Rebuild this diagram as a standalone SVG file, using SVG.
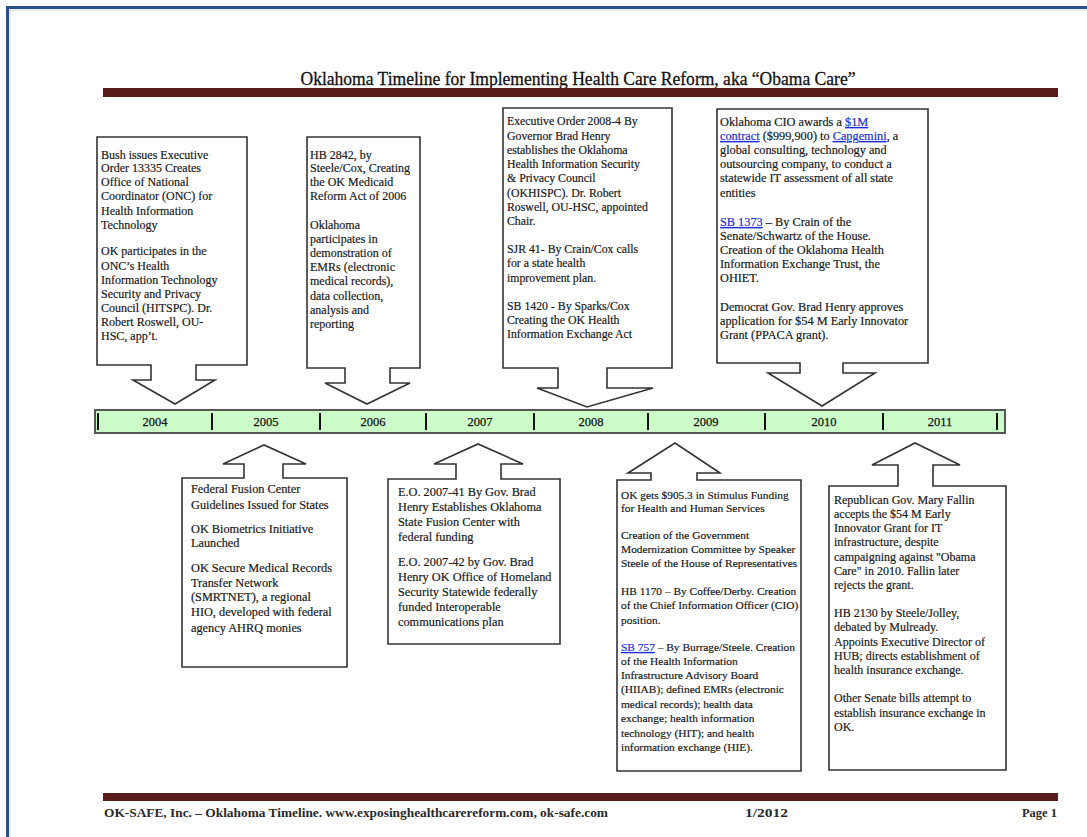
<svg xmlns="http://www.w3.org/2000/svg" width="1087" height="837" viewBox="0 0 1087 837">
<style>
.t{font-family:"Liberation Serif","Times New Roman",serif;fill:#1a1a1a;stroke:#1a1a1a;stroke-width:0.2}
.f12{font-size:12px}
.f118{font-size:11.8px}
.f123{font-size:12.3px}
.f114{font-size:11.4px}
.co{fill:#fff;stroke:#333;stroke-width:1.6;stroke-linejoin:miter}
.lk{fill:#1f2fd0;stroke:#1f2fd0;text-decoration:underline}
.yr{font-family:"Liberation Serif","Times New Roman",serif;font-size:12.5px;fill:#111;stroke:#111;stroke-width:0.25;text-anchor:middle}
.tick{stroke:#111;stroke-width:2}
.bar{fill:#5a1d1d}
.ft{font-family:"Liberation Serif","Times New Roman",serif;font-size:12.5px;font-weight:bold;fill:#2a2a2a}
</style>
<rect width="1087" height="837" fill="#fff"/>
<path d="M7.5,837 V7.5 H1087" fill="none" stroke="#2b4f88" stroke-width="3"/>
<path d="M10,837 V10 H1087" fill="none" stroke="#d6d6d6" stroke-width="1"/>

<g id="header">
<text x="578" y="85" text-anchor="middle" textLength="555" lengthAdjust="spacingAndGlyphs" style="font-family:'Liberation Serif','Times New Roman',serif;font-size:19.5px;fill:#111;stroke:#111;stroke-width:0.3">Oklahoma Timeline for Implementing Health Care Reform, aka “Obama Care”</text>
<rect class="bar" x="103" y="88" width="955" height="9"/>
</g>

<g id="timeline">
<rect x="95" y="410" width="910" height="23" fill="#ccfcc8" stroke="#555" stroke-width="2"/>
<line class="tick" x1="98" y1="413" x2="98" y2="430"/>
<line class="tick" x1="212" y1="413" x2="212" y2="430"/>
<line class="tick" x1="320" y1="413" x2="320" y2="430"/>
<line class="tick" x1="426" y1="413" x2="426" y2="430"/>
<line class="tick" x1="534" y1="413" x2="534" y2="430"/>
<line class="tick" x1="648" y1="413" x2="648" y2="430"/>
<line class="tick" x1="765" y1="413" x2="765" y2="430"/>
<line class="tick" x1="883" y1="413" x2="883" y2="430"/>
<line class="tick" x1="997" y1="413" x2="997" y2="430"/>
<text class="yr" x="155" y="426">2004</text>
<text class="yr" x="266" y="426">2005</text>
<text class="yr" x="373" y="426">2006</text>
<text class="yr" x="480" y="426">2007</text>
<text class="yr" x="591" y="426">2008</text>
<text class="yr" x="706" y="426">2009</text>
<text class="yr" x="824" y="426">2010</text>
<text class="yr" x="940" y="426">2011</text>
</g>

<g id="n2004">
<path class="co" d="M97,137 H247 V365 H196 V380 H215 L175,404 L133,380 H151 V365 H97 Z"/>
<g class="t f12">
<text x="101" y="159">Bush issues Executive</text>
<text x="101" y="172">Order 13335 Creates</text>
<text x="101" y="186">Office of National</text>
<text x="101" y="200">Coordinator (ONC) for</text>
<text x="101" y="215">Health Information</text>
<text x="101" y="229">Technology</text>
<text x="101" y="255">OK participates in the</text>
<text x="101" y="270">ONC’s Health</text>
<text x="101" y="284">Information Technology</text>
<text x="101" y="298">Security and Privacy</text>
<text x="101" y="312">Council (HITSPC). Dr.</text>
<text x="101" y="326">Robert Roswell, OU-</text>
<text x="101" y="340">HSC, app’t.</text>
</g>
</g>

<g id="n2006">
<path class="co" d="M307,137 H420 V368 H390 V383 H410 L367,404 L325,383 H345 V368 H307 Z"/>
<g class="t f12">
<text x="310" y="159">HB 2842, by</text>
<text x="310" y="172">Steele/Cox, Creating</text>
<text x="310" y="186">the OK Medicaid</text>
<text x="310" y="200">Reform Act of 2006</text>
<text x="310" y="229">Oklahoma</text>
<text x="310" y="243">participates in</text>
<text x="310" y="257">demonstration of</text>
<text x="310" y="271">EMRs (electronic</text>
<text x="310" y="285">medical records),</text>
<text x="310" y="300">data collection,</text>
<text x="310" y="314">analysis and</text>
<text x="310" y="328">reporting</text>
</g>
</g>

<g id="n2008">
<path class="co" d="M503,108 H672 V368 H607 V388 H653 L587,407 L537,388 H558 V368 H503 Z"/>
<g class="t f118">
<text x="507" y="125">Executive Order 2008-4 By</text>
<text x="507" y="140">Governor Brad Henry</text>
<text x="507" y="154">establishes the Oklahoma</text>
<text x="507" y="168">Health Information Security</text>
<text x="507" y="182">&amp; Privacy Council</text>
<text x="507" y="197">(OKHISPC). Dr. Robert</text>
<text x="507" y="211">Roswell, OU-HSC, appointed</text>
<text x="507" y="225">Chair.</text>
<text x="507" y="253">SJR 41- By Crain/Cox calls</text>
<text x="507" y="267">for a state health</text>
<text x="507" y="282">improvement plan.</text>
<text x="507" y="310">SB 1420 - By Sparks/Cox</text>
<text x="507" y="324">Creating the OK Health</text>
<text x="507" y="338">Information Exchange Act</text>
</g>
</g>

<g id="n2010">
<path class="co" d="M717,109 H928 V363 H843 V373 H875 L822,406 L768,373 H800 V363 H717 Z"/>
<g class="t f123">
<text x="720" y="126">Oklahoma CIO awards a <tspan class="lk">$1M</tspan></text>
<text x="720" y="140"><tspan class="lk">contract</tspan> ($999,900) to <tspan class="lk">Capgemini</tspan>, a</text>
<text x="720" y="154">global consulting, technology and</text>
<text x="720" y="168">outsourcing company, to conduct a</text>
<text x="720" y="182">statewide IT assessment of all state</text>
<text x="720" y="197">entities</text>
<text x="720" y="226"><tspan class="lk">SB 1373</tspan> – By Crain of the</text>
<text x="720" y="240">Senate/Schwartz of the House.</text>
<text x="720" y="254">Creation of the Oklahoma Health</text>
<text x="720" y="268">Information Exchange Trust, the</text>
<text x="720" y="282">OHIET.</text>
<text x="720" y="311">Democrat Gov. Brad Henry approves</text>
<text x="720" y="325">application for $54 M Early Innovator</text>
<text x="720" y="339">Grant (PPACA grant).</text>
</g>
</g>

<g id="n2005">
<path class="co" d="M182,478 H244 V464 H223 L264,445 L306,464 H283 V478 H347 V667 H182 Z"/>
<g class="t f123">
<text x="191" y="493">Federal Fusion Center</text>
<text x="191" y="509">Guidelines Issued for States</text>
<text x="191" y="533">OK Biometrics Initiative</text>
<text x="191" y="547">Launched</text>
<text x="191" y="572">OK Secure Medical Records</text>
<text x="191" y="587">Transfer Network</text>
<text x="191" y="601">(SMRTNET), a regional</text>
<text x="191" y="616">HIO, developed with federal</text>
<text x="191" y="632">agency AHRQ monies</text>
</g>
</g>

<g id="n2007">
<path class="co" d="M388,479 H456 V464 H434 L478,444 L523,464 H501 V479 H560 V644 H388 Z"/>
<g class="t f123">
<text x="398" y="496">E.O. 2007-41 By Gov. Brad</text>
<text x="398" y="511">Henry Establishes Oklahoma</text>
<text x="398" y="526">State Fusion Center with</text>
<text x="398" y="541">federal funding</text>
<text x="398" y="566">E.O. 2007-42 by Gov. Brad</text>
<text x="398" y="581">Henry OK Office of Homeland</text>
<text x="398" y="596">Security Statewide federally</text>
<text x="398" y="611">funded Interoperable</text>
<text x="398" y="626">communications plan</text>
</g>
</g>

<g id="n2009">
<path class="co" d="M617,480 H651 V473 H628 L675,443 L720,473 H697 V480 H801 V771 H617 Z"/>
<g class="t f114">
<text x="621" y="499">OK gets $905.3 in Stimulus Funding</text>
<text x="621" y="512">for Health and Human Services</text>
<text x="621" y="539">Creation of the Government</text>
<text x="621" y="553">Modernization Committee by Speaker</text>
<text x="621" y="567">Steele of the House of Representatives</text>
<text x="621" y="595">HB 1170 – By Coffee/Derby. Creation</text>
<text x="621" y="609">of the Chief Information Officer (CIO)</text>
<text x="621" y="624">position.</text>
<text x="621" y="651"><tspan class="lk">SB 757</tspan> – By Burrage/Steele. Creation</text>
<text x="621" y="665">of the Health Information</text>
<text x="621" y="679">Infrastructure Advisory Board</text>
<text x="621" y="693">(HIIAB); defined EMRs (electronic</text>
<text x="621" y="708">medical records); health data</text>
<text x="621" y="722">exchange; health information</text>
<text x="621" y="737">technology (HIT); and health</text>
<text x="621" y="751">information exchange (HIE).</text>
</g>
</g>

<g id="n2011">
<path class="co" d="M829,486 H898 V465 H872 L915,443 L960,465 H933 V486 H1006 V770 H829 Z"/>
<g class="t f12">
<text x="834" y="504">Republican Gov. Mary Fallin</text>
<text x="834" y="518">accepts the $54 M Early</text>
<text x="834" y="532">Innovator Grant for IT</text>
<text x="834" y="546">infrastructure, despite</text>
<text x="834" y="561">campaigning against "Obama</text>
<text x="834" y="575">Care" in 2010. Fallin later</text>
<text x="834" y="589">rejects the grant.</text>
<text x="834" y="617">HB 2130 by Steele/Jolley,</text>
<text x="834" y="631">debated by Mulready.</text>
<text x="834" y="646">Appoints Executive Director of</text>
<text x="834" y="660">HUB; directs establishment of</text>
<text x="834" y="674">health insurance exchange.</text>
<text x="834" y="702">Other Senate bills attempt to</text>
<text x="834" y="717">establish insurance exchange in</text>
<text x="834" y="731">OK.</text>
</g>
</g>

<g id="footer">
<rect class="bar" x="103" y="793" width="955" height="8"/>
<text class="ft" x="104" y="817" textLength="504" lengthAdjust="spacingAndGlyphs">OK-SAFE, Inc. – Oklahoma Timeline. www.exposinghealthcarereform.com, ok-safe.com</text>
<text class="ft" x="745" y="817" textLength="43" lengthAdjust="spacingAndGlyphs">1/2012</text>
<text class="ft" x="1057" y="817" text-anchor="end">Page 1</text>
</g>
</svg>
